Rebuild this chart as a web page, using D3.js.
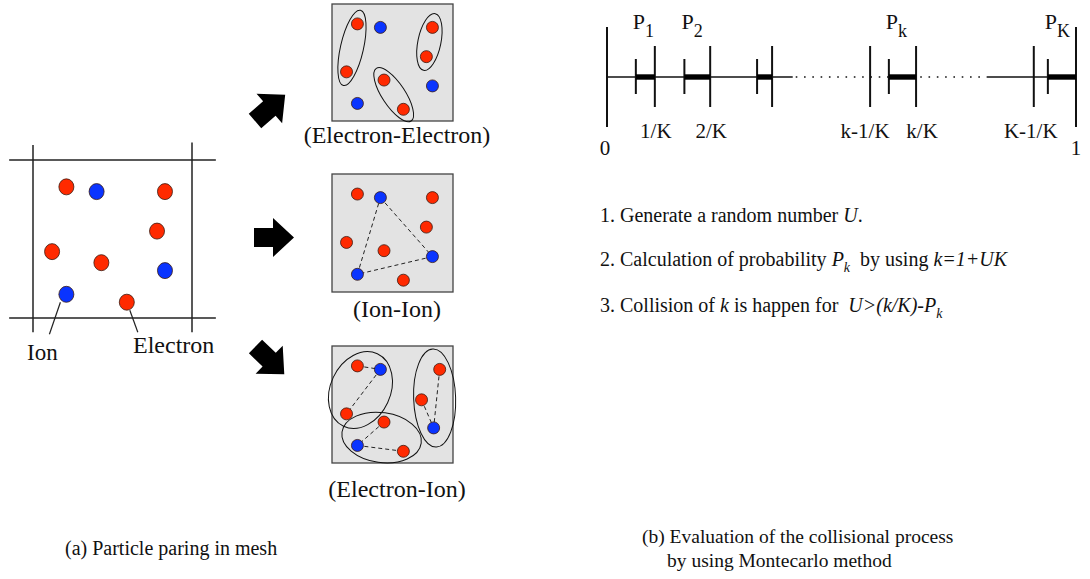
<!DOCTYPE html>
<html>
<head>
<meta charset="utf-8">
<script src="https://cdn.jsdelivr.net/npm/d3@7"></script>
<style>
  body { margin: 0; background: #fff; }
  svg { display: block; }
  text { font-family: "Liberation Serif", "Times New Roman", serif; fill: #111; }
</style>
</head>
<body>
<svg id="fig" width="1090" height="579" font-family="Liberation Serif, Times New Roman, serif"></svg>
<script>
// ---- particle layout inside one mesh cell (cell units 0..100) ----
const meshParticles = [
  { kind: "e", u: 21, v: 17 },
  { kind: "i", u: 40, v: 20 },
  { kind: "e", u: 83, v: 20 },
  { kind: "e", u: 78, v: 45 },
  { kind: "e", u: 12, v: 58 },
  { kind: "e", u: 43, v: 65 },
  { kind: "i", u: 83, v: 70 },
  { kind: "i", u: 21, v: 85 },
  { kind: "e", u: 59, v: 90 }
];
// same cell, as drawn for the electron-ion pairing
const eiParticles = [
  { kind: "e", u: 21, v: 17 },
  { kind: "i", u: 40, v: 20 },
  { kind: "e", u: 89, v: 20 },
  { kind: "e", u: 74, v: 46 },
  { kind: "e", u: 12, v: 58 },
  { kind: "e", u: 43, v: 65 },
  { kind: "i", u: 84, v: 70 },
  { kind: "i", u: 21, v: 85 },
  { kind: "e", u: 59, v: 90 }
];
const eePairs  = [[0, 4], [2, 3], [5, 8]];
const ionLinks = [[1, 6], [6, 7], [7, 1]];
const eiGroups = [[0, 1, 4], [5, 7, 8], [2, 3, 6]];
const eiLinks  = [[0, 1], [1, 4], [5, 7], [7, 8], [2, 6], [3, 6]];
const panelNames = ["(Electron-Electron)", "(Ion-Ion)", "(Electron-Ion)"];

// ---- number line for the Monte Carlo selection (schematic units 0..100) ----
const tickPos    = [10.2, 22.0, 35.2, 56.1, 65.9, 91.0];
const tickLabels = ["1/K", "2/K", "", "k-1/K", "k/K", "K-1/K"];
const binEnd     = [10.2, 22.0, 35.2, 65.9, 100];
const binWidth   = [4.05, 5.5, 3.2, 5.8, 6.0];
const binNames   = ["1", "2", "", "k", "K"];
const solidSpans = [[0, 39.6], [81.0, 100]];
const dottedSpan = [39.6, 81.0];
const endLabels  = ["0", "1"];

const svg = d3.select("#fig");
const SERIF = "Liberation Serif, Times New Roman, serif";
const RED = "#ff2a00", BLUE = "#0a34ff", EDGE = "#3a1a10";

// ================= (a) left: particles in a mesh cell =================
const mx = d3.scaleLinear().domain([0, 100]).range([33, 192]);
const my = d3.scaleLinear().domain([0, 100]).range([160, 318]);
const mesh = svg.append("g");
const meshLine = (x1, y1, x2, y2) => mesh.append("line")
  .attr("x1", x1).attr("y1", y1).attr("x2", x2).attr("y2", y2)
  .attr("stroke", "#222").attr("stroke-width", 1.5);
meshLine(mx(-15), my(0), mx(115), my(0));
meshLine(mx(-15), my(100), mx(115), my(100));
meshLine(mx(0), my(-9.5), mx(0), my(109));
meshLine(mx(100), my(-11), mx(100), my(109));

mesh.selectAll("ellipse.p").data(meshParticles).join("ellipse")
  .attr("cx", d => mx(d.u)).attr("cy", d => my(d.v))
  .attr("rx", 7.5).attr("ry", 8)
  .attr("fill", d => d.kind === "e" ? RED : BLUE)
  .attr("stroke", EDGE).attr("stroke-width", 0.8);

// pointers to the legend words
const ionP = meshParticles[7], elP = meshParticles[8];
mesh.append("line").attr("x1", mx(ionP.u) - 6).attr("y1", my(ionP.v) + 8)
  .attr("x2", mx(ionP.u) - 17).attr("y2", my(ionP.v) + 40)
  .attr("stroke", "#222").attr("stroke-width", 1.2);
mesh.append("line").attr("x1", mx(elP.u) + 3).attr("y1", my(elP.v) + 8)
  .attr("x2", mx(elP.u) + 11).attr("y2", my(elP.v) + 30)
  .attr("stroke", "#222").attr("stroke-width", 1.2);
mesh.append("text").attr("x", 27).attr("y", 360).attr("font-family", SERIF)
  .attr("font-size", 23).text("Ion");
mesh.append("text").attr("x", 133).attr("y", 353).attr("font-family", SERIF)
  .attr("font-size", 24).text("Electron");
mesh.append("text").attr("x", 65).attr("y", 555).attr("font-family", SERIF)
  .attr("font-size", 20).text("(a) Particle paring in mesh");

// ================= block arrows =================
const arrowShape = "M0,-9.5 L19,-9.5 L19,-19.5 L40,0 L19,19.5 L19,9.5 L0,9.5 Z";
const arrows = [
  { x: 255, y: 121, a: -41 },
  { x: 254, y: 237.5, a: 0 },
  { x: 255.5, y: 346.5, a: 44 }
];
svg.append("g").selectAll("path").data(arrows).join("path")
  .attr("d", arrowShape)
  .attr("transform", d => `translate(${d.x},${d.y}) rotate(${d.a})`)
  .attr("fill", "#000");

// ================= three pairing panels =================
const panels = [
  { y0: 4,   y1: 121, parts: meshParticles },
  { y0: 174, y1: 292, parts: meshParticles },
  { y0: 346, y1: 463, parts: eiParticles }
];
const labelY = [143, 317, 497];

panels.forEach((pn, i) => {
  const px = d3.scaleLinear().domain([0, 100]).range([332, 453]);
  const py = d3.scaleLinear().domain([0, 100]).range([pn.y0, pn.y1]);
  const g = svg.append("g");
  g.append("rect").attr("x", px(0)).attr("y", py(0))
    .attr("width", px(100) - px(0)).attr("height", py(100) - py(0))
    .attr("fill", "#e3e3e3").attr("stroke", "#444").attr("stroke-width", 1.3);

  const P = pn.parts.map(d => ({ ...d, x: px(d.u), y: py(d.v) }));

  if (i === 0) {
    // electron-electron pairs enclosed by slim ellipses
    eePairs.forEach(([a, b]) => {
      const A = P[a], B = P[b];
      const cx = (A.x + B.x) / 2, cy = (A.y + B.y) / 2;
      const half = Math.hypot(B.x - A.x, B.y - A.y) / 2;
      const ang = Math.atan2(B.y - A.y, B.x - A.x) * 180 / Math.PI;
      g.append("ellipse").attr("cx", 0).attr("cy", 0)
        .attr("rx", half + 14).attr("ry", 11.5)
        .attr("transform", `translate(${cx},${cy}) rotate(${ang})`)
        .attr("fill", "none").attr("stroke", "#111").attr("stroke-width", 1);
    });
  }
  if (i === 1) {
    g.selectAll("line.l").data(ionLinks).join("line")
      .attr("x1", d => P[d[0]].x).attr("y1", d => P[d[0]].y)
      .attr("x2", d => P[d[1]].x).attr("y2", d => P[d[1]].y)
      .attr("stroke", "#222").attr("stroke-width", 1).attr("stroke-dasharray", "4,3");
  }
  if (i === 2) {
    const shapes = [
      { dx: -1, dy: 7, rx: 40, ry: 30, a: -65 },
      { dx: 0, dy: -2, rx: 40, ry: 25, a: 8 },
      { dx: 3, dy: -1, rx: 49, ry: 21, a: 88 }
    ];
    g.selectAll("line.l").data(eiLinks).join("line")
      .attr("x1", d => P[d[0]].x).attr("y1", d => P[d[0]].y)
      .attr("x2", d => P[d[1]].x).attr("y2", d => P[d[1]].y)
      .attr("stroke", "#222").attr("stroke-width", 1).attr("stroke-dasharray", "4,3");
    eiGroups.forEach((grp, k) => {
      const cx = d3.mean(grp, j => P[j].x) + shapes[k].dx;
      const cy = d3.mean(grp, j => P[j].y) + shapes[k].dy;
      g.append("ellipse").attr("cx", 0).attr("cy", 0)
        .attr("rx", shapes[k].rx).attr("ry", shapes[k].ry)
        .attr("transform", `translate(${cx},${cy}) rotate(${shapes[k].a})`)
        .attr("fill", "none").attr("stroke", "#111").attr("stroke-width", 1);
    });
  }

  g.selectAll("circle").data(P).join("circle")
    .attr("cx", d => d.x).attr("cy", d => d.y).attr("r", 6)
    .attr("fill", d => d.kind === "e" ? RED : BLUE)
    .attr("stroke", EDGE).attr("stroke-width", 0.8);

  svg.append("text").attr("x", 397).attr("y", labelY[i]).attr("font-family", SERIF)
    .attr("text-anchor", "middle").attr("font-size", 24).text(panelNames[i]);
});

// ================= (b) right: number line =================
const nx = d3.scaleLinear().domain([0, 100]).range([607, 1076]);
const lineY = 77;
const nl = svg.append("g").attr("font-family", SERIF);
solidSpans.forEach(([a, b]) => nl.append("line")
  .attr("x1", nx(a)).attr("x2", nx(b)).attr("y1", lineY).attr("y2", lineY)
  .attr("stroke", "#111").attr("stroke-width", 1.5));
nl.append("line").attr("x1", nx(dottedSpan[0]) + 3).attr("x2", nx(dottedSpan[1]))
  .attr("y1", lineY).attr("y2", lineY)
  .attr("stroke", "#111").attr("stroke-width", 1.6).attr("stroke-dasharray", "1.6,6.7");

// end posts
[0, 100].forEach(v => nl.append("line")
  .attr("x1", nx(v)).attr("x2", nx(v)).attr("y1", 27).attr("y2", 127)
  .attr("stroke", "#111").attr("stroke-width", 2));
// boundary ticks
nl.selectAll("line.t").data(tickPos).join("line")
  .attr("x1", d => nx(d)).attr("x2", d => nx(d)).attr("y1", 46).attr("y2", 107)
  .attr("stroke", "#111").attr("stroke-width", 2);
// probability segments
binEnd.forEach((e, i) => {
  const s = e - binWidth[i];
  nl.append("line").attr("x1", nx(s)).attr("x2", nx(s)).attr("y1", 59).attr("y2", 94)
    .attr("stroke", "#111").attr("stroke-width", 2);
  nl.append("rect").attr("x", nx(s)).attr("y", lineY - 2.7)
    .attr("width", nx(e) - nx(s)).attr("height", 5.4).attr("fill", "#000");
  if (binNames[i]) {
    const t = nl.append("text").attr("x", nx(s) - 3).attr("y", 29).attr("font-size", 22);
    t.append("tspan").text("P");
    t.append("tspan").attr("dy", 8).attr("font-size", 18).text(binNames[i]);
  }
});
const labelNudge = [1, 1, 0, -5, 6, -3];
nl.selectAll("text.tl").data(tickPos.map((p, i) => ({ p, l: tickLabels[i], n: labelNudge[i] })).filter(d => d.l))
  .join("text").attr("x", d => nx(d.p) + d.n).attr("y", 138)
  .attr("text-anchor", "middle").attr("font-size", 21).text(d => d.l);
nl.append("text").attr("x", nx(0) - 2).attr("y", 155).attr("text-anchor", "middle")
  .attr("font-size", 21).text(endLabels[0]);
nl.append("text").attr("x", nx(100)).attr("y", 155).attr("text-anchor", "middle")
  .attr("font-size", 21).text(endLabels[1]);

// ---- algorithm steps ----
const steps = [
  [["1. Generate a random number ", 0], ["U", 1], [".", 0]],
  [["2. Calculation of probability ", 0], ["P", 1], ["k", 2], ["  by using ", 0], ["k=1+UK", 1]],
  [["3. Collision of ", 0], ["k", 1], [" is happen for  ", 0], ["U>(k/K)-P", 1], ["k", 2]]
];
const stepY = [222, 266, 312];
steps.forEach((parts, i) => {
  const t = svg.append("text").attr("x", 600).attr("y", stepY[i])
    .attr("font-family", SERIF).attr("font-size", 20)
    .attr("xml:space", "preserve").style("white-space", "pre");
  let sub = false;
  parts.forEach(([s, style]) => {
    const ts = t.append("tspan").text(s);
    if (style >= 1) ts.attr("font-style", "italic");
    if (style === 2) { ts.attr("font-size", 14).attr("dy", 6); sub = true; }
    else if (sub) { ts.attr("dy", -6); sub = false; }
  });
});

svg.append("text").attr("x", 642).attr("y", 543).attr("font-family", SERIF)
  .attr("font-size", 19.5).text("(b) Evaluation of the collisional process");
svg.append("text").attr("x", 667).attr("y", 567).attr("font-family", SERIF)
  .attr("font-size", 19.5).text("by using Montecarlo method");
</script>
</body>
</html>
